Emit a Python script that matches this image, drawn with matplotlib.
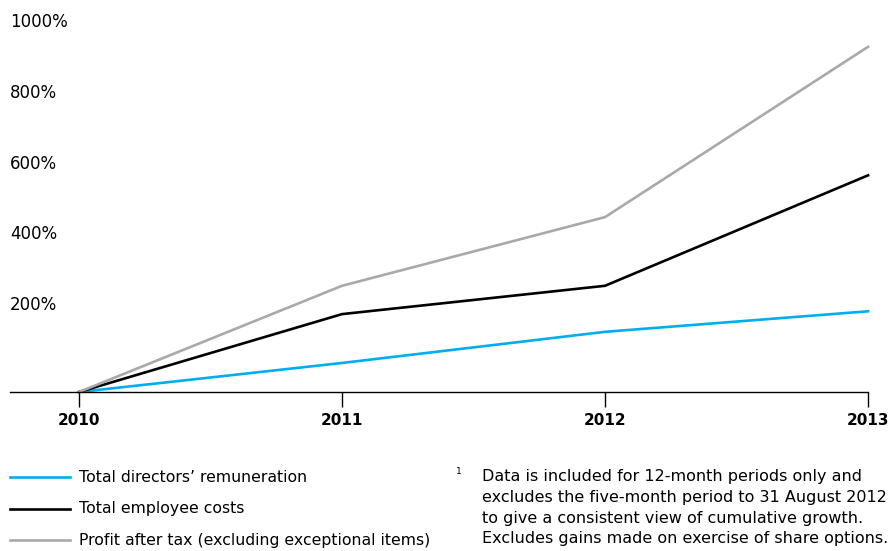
import matplotlib.pyplot as plt
import matplotlib.transforms as mtransforms
from matplotlib.lines import Line2D

plt.rcParams["font.family"] = ["DejaVu Sans"]

years = [2010, 2011, 2012, 2013]
directors = [0, 82, 170, 228]
employees = [0, 220, 300, 612]
profit = [0, 300, 494, 975]
y_labels = [200, 400, 600, 800, 1000]

series_names = ["Total directors\u2019 remuneration",
                "Total employee costs",
                "Profit after tax (excluding exceptional items)"]
series_colors = ["#00aeef", "#000000", "#a7a9ac"]

footnote = ["Data is included for 12-month periods only and",
            "excludes the five-month period to 31 August 2012",
            "to give a consistent view of cumulative growth.",
            "Excludes gains made on exercise of share options."]

W, H = 891, 551
fig = plt.figure(figsize=(W / 100, H / 100), dpi=100)
ax = fig.add_axes([10 / W, 1 - 392 / H, (868 - 10) / W, (392 - 10) / H])

for vals, col in zip([directors, employees, profit], series_colors):
    ax.plot(years, vals, color=col, linewidth=1.9, clip_on=False,
            solid_joinstyle="miter")

ax.set_xlim(2010 - 69 / 263, 2013)
ax.set_ylim(0, 382 / 0.354)

for side in ["top", "right", "left"]:
    ax.spines[side].set_visible(False)
ax.spines["bottom"].set_linewidth(1.0)
ax.set_yticks([])
ax.set_xticks(years)
ax.set_xticklabels([str(y) for y in years], fontweight="bold", fontsize=11)
ax.tick_params(axis="x", length=11, width=1.0, pad=4)

trans = mtransforms.blended_transform_factory(ax.transAxes, ax.transData)
for v in y_labels:
    ax.annotate("{}%".format(v), xy=(0, v), xycoords=trans,
                xytext=(0, 11.5), textcoords="offset points",
                ha="left", va="center", fontsize=12)

# legend
for i, (name, col) in enumerate(zip(series_names, series_colors)):
    yy = 1 - (477 + i * 31.5) / H
    fig.add_artist(Line2D([10 / W, 70 / W], [yy, yy], color=col,
                          linewidth=1.9, transform=fig.transFigure))
    fig.text(79 / W, yy, name, ha="left", va="center", fontsize=11.3)

# footnote
fig.text(456 / W, 1 - 471 / H, "1", fontsize=6.5, ha="left", va="center")
for i, line in enumerate(footnote):
    fig.text(482 / W, 1 - (477 + i * 20.5) / H, line, ha="left",
             va="center", fontsize=11.5)

fig.savefig("out.png", dpi=100)
